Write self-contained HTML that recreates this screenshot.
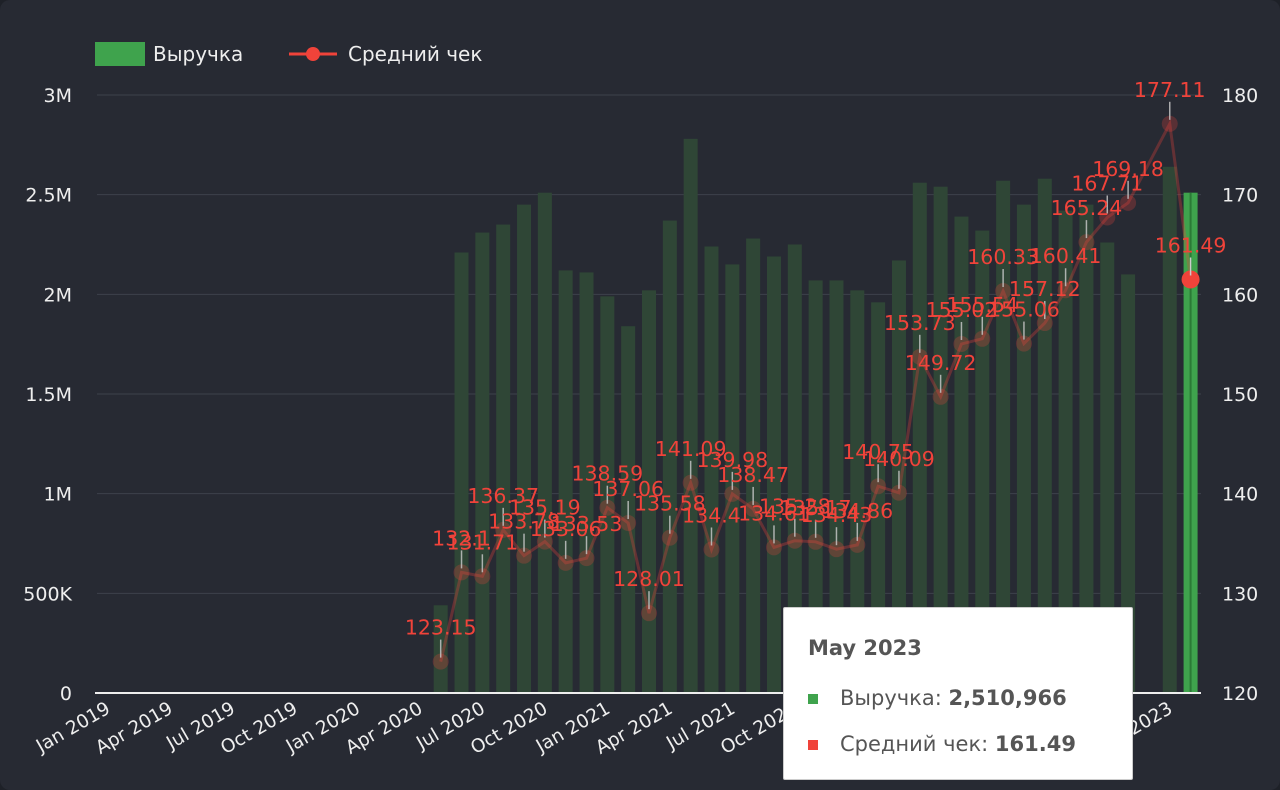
<!DOCTYPE html>
<html><head><meta charset="utf-8"><style>
html,body{margin:0;padding:0;background:#1e2128;}
#wrap{position:relative;width:1280px;height:790px;background:#272a33;border-radius:10px;overflow:hidden;font-family:"Liberation Sans","DejaVu Sans",sans-serif;}
svg text{font-family:"DejaVu Sans","Liberation Sans",sans-serif;}
#tip{position:absolute;left:783px;top:607px;width:350px;height:173px;background:#fff;border:1px solid #ccc;box-sizing:border-box;border-radius:2px;color:#555;font-family:"DejaVu Sans","Liberation Sans",sans-serif;}
#tip .t{position:absolute;left:24px;top:28px;font-size:21px;font-weight:bold;}
#tip .r{position:absolute;left:24px;font-size:21px;white-space:nowrap;}
#tip .sq{display:inline-block;width:10px;height:10px;margin-right:22px;vertical-align:middle;}
</style></head><body>
<div id="wrap">
<svg id="chart" width="1280" height="790"></svg>
<div id="tip">
 <div class="t">May 2023</div>
 <div class="r" style="top:78px"><span class="sq" style="background:#3fa34d"></span>Выручка: <b>2,510,966</b></div>
 <div class="r" style="top:124px"><span class="sq" style="background:#f0433a"></span>Средний чек: <b>161.49</b></div>
</div>
</div>
<script>
const months = ["Jan","Feb","Mar","Apr","May","Jun","Jul","Aug","Sep","Oct","Nov","Dec"];
// revenue from May 2020 to May 2023 (millions), null = missing
const revenue = [0.44,2.21,2.31,2.35,2.45,2.51,2.12,2.11,1.99,1.84,2.02,2.37,2.78,2.24,2.15,2.28,2.19,2.25,2.07,2.07,2.02,1.96,2.17,2.56,2.54,2.39,2.32,2.57,2.45,2.58,2.42,2.45,2.26,2.10,null,2.64,2.51];
const avgCheck = [123.15,132.1,131.71,136.37,133.78,135.19,133.06,133.53,138.59,137.06,128.01,135.58,141.09,134.4,139.98,138.47,134.61,135.28,135.17,134.43,134.86,140.75,140.09,153.73,149.72,155.02,155.54,160.33,155.06,157.12,160.41,165.24,167.71,169.18,null,177.11,161.49];
const leftTicks = [0,0.5,1,1.5,2,2.5,3];
const leftTickLabels = ["0","500K","1M","1.5M","2M","2.5M","3M"];
const rightTicks = [120,130,140,150,160,170,180];
const startIndex = 16; // May 2020 index from Jan 2019
const totalMonths = 53;

const NS="http://www.w3.org/2000/svg";
const svg=document.getElementById('chart');
const X0=97,X1=1201,Y0=693,Y1=95;
const band=(X1-X0)/totalMonths;
const xAt=i=>X0+band*(i+0.5);
const yL=v=>Y0-(v/3)*(Y0-Y1);
const yR=v=>Y0-((v-120)/60)*(Y0-Y1);
function mk(tag,attrs,parent){const e=document.createElementNS(NS,tag);for(const k in attrs)e.setAttribute(k,attrs[k]);(parent||svg).appendChild(e);return e;}

// legend
let g=mk('g',{});


mk('rect',{x:95,y:42,width:50,height:24,fill:'#3fa34d'},g);
let t=mk('text',{x:153,y:61,fill:'#eee','font-size':20},g);t.textContent='Выручка';
g=mk('g',{});


mk('line',{x1:289,y1:54,x2:337,y2:54,stroke:'#f0433a','stroke-width':3},g);
mk('circle',{cx:313,cy:54,r:7,fill:'#f0433a'},g);
t=mk('text',{x:348,y:61,fill:'#eee','font-size':20},g);t.textContent='Средний чек';

// grid and axes labels
leftTicks.forEach((v,i)=>{
  const y=yL(v);
  if(i>0){const l=mk('line',{x1:X0,y1:y,x2:X1,y2:y,stroke:'#3e424b','stroke-width':1});
  
  }
  const tx=mk('text',{x:72,y:y+7,fill:'#eee','font-size':19,'text-anchor':'end'});
  
  
  tx.textContent=leftTickLabels[i];
});
rightTicks.forEach(v=>{
  const tx=mk('text',{x:1222,y:yR(v)+7,fill:'#eee','font-size':19});
  
  
  tx.textContent=String(v);
});
// x labels
for(let i=0;i<totalMonths;i+=3){
  const x=xAt(i);const yr=2019+Math.floor(i/12);
  const tx=mk('text',{x:x+4,y:712,fill:'#eee','font-size':18.5,'text-anchor':'end',transform:`rotate(-30 ${x+4} 712)`});
  
  
  tx.textContent=months[i%12]+' '+yr;
}
// bars
const last=revenue.length-1;
revenue.forEach((v,k)=>{
  if(v==null)return;
  const x=xAt(startIndex+k);const y=yL(v);
  const hl=k===last;
  const r=mk('rect',{x:x-7,y:y,width:14,height:Y0-y,fill:hl?'#3fa34d':'#2f4636'});
  
  
  if(hl){mk('line',{x1:x,y1:y,x2:x,y2:Y0,stroke:'#2b7a36','stroke-width':2});}
});
// baseline
const bl=mk('line',{x1:X0-2,y1:Y0,x2:X1,y2:Y0,stroke:'#eee','stroke-width':2});


// line
const pts=[];avgCheck.forEach((v,k)=>{if(v!=null)pts.push([xAt(startIndex+k),yR(v)]);});
const pl=mk('polyline',{points:pts.map(p=>p.join(',')).join(' '),fill:'none',stroke:'#f0433a','stroke-opacity':0.3,'stroke-width':3});


avgCheck.forEach((v,k)=>{
  if(v==null)return;
  const x=xAt(startIndex+k),y=yR(v);const hl=k===last;
  const c=mk('circle',{cx:x,cy:y,r:hl?9:8,fill:'#f0433a','fill-opacity':hl?1:0.25});
  
  
  mk('line',{x1:x,y1:y-4,x2:x,y2:y-22,stroke:'#ccc','stroke-width':1.5,opacity:hl?1:0.8});
});
avgCheck.forEach((v,k)=>{
  if(v==null)return;
  const x=xAt(startIndex+k),y=yR(v);
  const tx=mk('text',{x:x,y:y-27,fill:'#f0433a','font-size':20.5,'text-anchor':'middle'});
  
  
  tx.textContent=String(v);
});
</script>
</body></html>
